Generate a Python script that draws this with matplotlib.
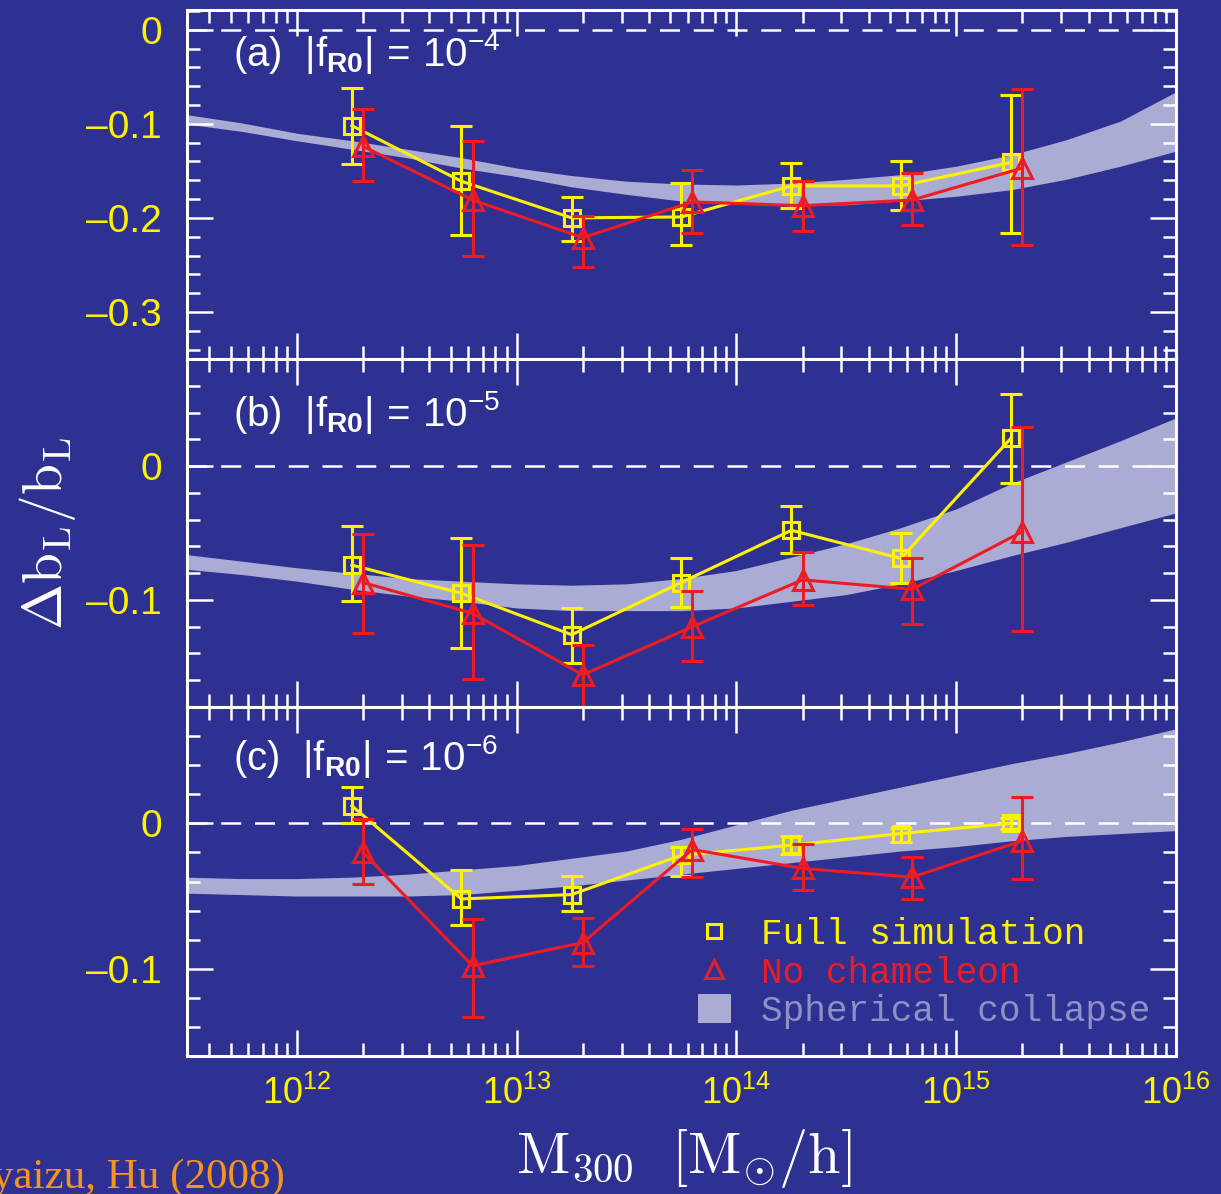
import numpy as np
import matplotlib
matplotlib.use('Agg')
import matplotlib.pyplot as plt
from matplotlib.lines import Line2D
from matplotlib.patches import Patch
from matplotlib.ticker import FixedLocator, MultipleLocator, LogLocator, NullFormatter, FuncFormatter

plt.rcParams['mathtext.fontset'] = 'custom'
plt.rcParams['mathtext.rm'] = 'Liberation Sans'
plt.rcParams['mathtext.it'] = 'Liberation Sans:italic'
plt.rcParams['mathtext.bf'] = 'Liberation Sans:bold'
plt.rcParams['font.family'] = ['Liberation Sans', 'DejaVu Sans']

BG = '#2e3192'
YEL = '#fff200'
RED = '#ed1c24'
BAND = '#aaacd4'
LEGBAND = '#8e90c6'

# ---------------- data ----------------
m_full = [1.78e12, 5.6e12, 1.78e13, 5.6e13, 1.78e14, 5.6e14, 1.78e15]
m_nocham = [2.0e12, 6.3e12, 2.0e13, 6.3e13, 2.0e14, 6.3e14, 2.0e15]
band_m = [3.1e11, 5.6e11, 1e12, 1.78e12, 3.16e12, 5.6e12, 1e13, 1.78e13, 3.16e13, 5.6e13,
          1e14, 1.78e14, 3.16e14, 5.6e14, 1e15, 1.78e15, 3.16e15, 5.6e15, 1e16]

# panel (a) |fR0| = 1e-4
full_a = [-0.102, -0.161, -0.200, -0.199, -0.166, -0.166, -0.141]
full_a_hi = [-0.062, -0.102, -0.178, -0.163, -0.142, -0.139, -0.069]
full_a_lo = [-0.143, -0.218, -0.225, -0.229, -0.190, -0.192, -0.216]
noch_a = [-0.124, -0.181, -0.221, -0.183, -0.187, -0.181, -0.147]
noch_a_hi = [-0.084, -0.118, -0.198, -0.149, -0.161, -0.152, -0.063]
noch_a_lo = [-0.161, -0.241, -0.252, -0.216, -0.214, -0.208, -0.229]
band_a_hi = [-0.090, -0.099, -0.110, -0.118, -0.127, -0.136, -0.147, -0.155, -0.161, -0.164,
             -0.165, -0.163, -0.159, -0.154, -0.145, -0.133, -0.117, -0.097, -0.066]
band_a_lo = [-0.100, -0.108, -0.118, -0.127, -0.136, -0.147, -0.156, -0.167, -0.175, -0.182,
             -0.185, -0.187, -0.186, -0.182, -0.177, -0.170, -0.159, -0.145, -0.129]

# panel (b) |fR0| = 1e-5
full_b = [-0.074, -0.095, -0.126, -0.087, -0.048, -0.069, 0.021]
full_b_hi = [-0.045, -0.054, -0.106, -0.069, -0.030, -0.050, 0.054]
full_b_lo = [-0.101, -0.136, -0.147, -0.105, -0.065, -0.087, -0.013]
noch_b = [-0.087, -0.110, -0.156, -0.120, -0.085, -0.092, -0.049]
noch_b_hi = [-0.051, -0.059, -0.134, -0.093, -0.064, -0.069, 0.029]
noch_b_lo = [-0.125, -0.159, -0.200, -0.146, -0.104, -0.118, -0.123]
band_b_hi = [-0.066, -0.071, -0.076, -0.080, -0.084, -0.086, -0.088, -0.089, -0.088, -0.084,
             -0.078, -0.068, -0.058, -0.046, -0.032, -0.013, 0.003, 0.019, 0.036]
band_b_lo = [-0.077, -0.081, -0.086, -0.092, -0.097, -0.101, -0.106, -0.108, -0.108, -0.108,
             -0.106, -0.101, -0.096, -0.088, -0.078, -0.067, -0.057, -0.046, -0.035]

# panel (c) |fR0| = 1e-6
full_c = [0.012, -0.052, -0.049, -0.022, -0.015, -0.007, 0.000]
full_c_hi = [0.025, -0.032, -0.036, -0.016, -0.009, -0.003, 0.004]
full_c_lo = [0.000, -0.070, -0.060, -0.036, -0.021, -0.013, -0.004]
noch_c = [-0.020, -0.098, -0.082, -0.018, -0.031, -0.037, -0.012]
noch_c_hi = [0.003, -0.066, -0.065, -0.004, -0.014, -0.023, 0.018]
noch_c_lo = [-0.042, -0.133, -0.098, -0.037, -0.046, -0.052, -0.038]
band_c_hi = [-0.037, -0.038, -0.038, -0.037, -0.035, -0.032, -0.029, -0.024, -0.019, -0.011,
             -0.001, 0.009, 0.017, 0.025, 0.033, 0.041, 0.048, 0.056, 0.065]
band_c_lo = [-0.048, -0.049, -0.050, -0.050, -0.050, -0.049, -0.046, -0.043, -0.039, -0.035,
             -0.031, -0.027, -0.023, -0.019, -0.016, -0.012, -0.009, -0.007, -0.005]

panel_labels = [r'(a)  $|\mathrm{f}_{\mathbf{R0}}|\,=\,10^{-4}$',
                r'(b)  $|\mathrm{f}_{\mathbf{R0}}|\,=\,10^{-5}$',
                r'(c)  $|\mathrm{f}_{\mathbf{R0}}|\,=\,10^{-6}$']
ylims = [(-0.35, 0.021), (-0.18, 0.08), (-0.16, 0.08)]
yticks = [[0, -0.1, -0.2, -0.3], [0, -0.1], [0, -0.1]]
legend_labels = ['Full simulation', 'No chameleon', 'Spherical collapse']

# --------------- figure ---------------
W, H = 1221, 1194
fig = plt.figure(figsize=(W / 100, H / 100), dpi=100, facecolor=BG)
left = 187 / W
width = (1176 - 187) / W
edges = [10, 359, 707, 1056]
label_y = [42, 53, 50]

data = [
    (full_a, full_a_hi, full_a_lo, noch_a, noch_a_hi, noch_a_lo, band_a_hi, band_a_lo),
    (full_b, full_b_hi, full_b_lo, noch_b, noch_b_hi, noch_b_lo, band_b_hi, band_b_lo),
    (full_c, full_c_hi, full_c_lo, noch_c, noch_c_hi, noch_c_lo, band_c_hi, band_c_lo),
]

def yfmt(v, pos):
    if abs(v) < 1e-9:
        return '0'
    return '\u2013%.1f' % abs(v)

axes = []
for i in range(3):
    top, bot = edges[i], edges[i + 1]
    ax = fig.add_axes([left, 1 - bot / H, width, (bot - top) / H])
    ax.set_facecolor(BG)
    ax.set_xscale('log')
    ax.set_xlim(10 ** 11.5, 1e16)
    ax.set_ylim(*ylims[i])

    fy, fyh, fyl, ny, nyh, nyl, bh, bl = [np.array(a) for a in data[i]]
    ax.fill_between(band_m, bl, bh, color=BAND, lw=0, zorder=1)
    ax.axhline(0, color='white', lw=1.8, dashes=(8, 5.5), zorder=2)

    ax.errorbar(m_full, fy, yerr=[fy - fyl, fyh - fy], color=YEL, marker='s', ms=12,
                mfc='none', mec=YEL, mew=2.2, lw=2.2, elinewidth=2.2, capsize=8,
                capthick=2.2, zorder=3)
    ax.errorbar(m_nocham, ny, yerr=[ny - nyl, nyh - ny], color=RED, marker='^', ms=15,
                mfc='none', mec=RED, mew=2.2, lw=2.2, elinewidth=2.2, capsize=8,
                capthick=2.2, zorder=4)

    for s in ax.spines.values():
        s.set_color('white')
        s.set_linewidth(2.2)

    ax.yaxis.set_major_locator(FixedLocator(yticks[i]))
    ax.yaxis.set_minor_locator(MultipleLocator(0.02))
    ax.yaxis.set_major_formatter(FuncFormatter(yfmt))
    ax.xaxis.set_major_locator(LogLocator(base=10, numticks=20))
    ax.xaxis.set_minor_locator(LogLocator(base=10, subs=np.arange(2, 10), numticks=100))
    ax.xaxis.set_minor_formatter(NullFormatter())

    ax.tick_params(which='both', direction='in', top=True, right=True,
                   colors='white', width=1.8)
    ax.tick_params(which='major', length=19)
    ax.tick_params(which='minor', length=9.5)
    ax.tick_params(axis='y', which='major', labelcolor=YEL, labelsize=28, pad=18)
    ax.tick_params(axis='x', which='major', labelcolor=YEL, labelsize=26, pad=14)
    if i < 2:
        ax.tick_params(axis='x', labelbottom=False)

    ax.text((233 - 187) / 989, 1 - label_y[i] / (bot - top), panel_labels[i],
            transform=ax.transAxes, color='white', fontsize=29, va='center', ha='left',
            zorder=5)
    axes.append(ax)

axc = axes[2]
handles = [
    Line2D([], [], ls='none', marker='s', ms=10, mfc='none', mec=YEL, mew=2.2),
    Line2D([], [], ls='none', marker='^', ms=13, mfc='none', mec=RED, mew=2.2),
    Patch(facecolor=BAND, edgecolor='none'),
]
leg = axc.legend(handles, legend_labels, loc='upper left',
                 bbox_to_anchor=((698 - 187) / 989, 1 - (917 - 707) / 349),
                 frameon=False,
                 prop={'family': 'Liberation Mono', 'size': 26},
                 handlelength=0.91, handleheight=0.85, handletextpad=0.83,
                 labelspacing=0.1, borderpad=0, borderaxespad=0)
for t, c in zip(leg.get_texts(), [YEL, RED, LEGBAND]):
    t.set_color(c)
    t.set_path_effects([])

fig.text(48 / W, 1 - 533 / H, r'$\Delta\mathrm{b}_\mathrm{L}/\mathrm{b}_\mathrm{L}$',
         rotation=90, color='white', fontsize=40, math_fontfamily='cm',
         ha='center', va='center')
fig.text(684 / W, 1 - 1158 / H, r'$\mathrm{M}_{300}\ \ [\mathrm{M}_{\odot}/\mathrm{h}]$',
         color='white', fontsize=42, math_fontfamily='cm', ha='center', va='center')
fig.text(285 / W, 1 - 1188 / H, 'Oyaizu, Hu (2008)', ha='right', va='baseline',
         family='Liberation Serif', fontsize=31, color='#f7941d')

fig.savefig('out.png', dpi=100, facecolor=BG)
